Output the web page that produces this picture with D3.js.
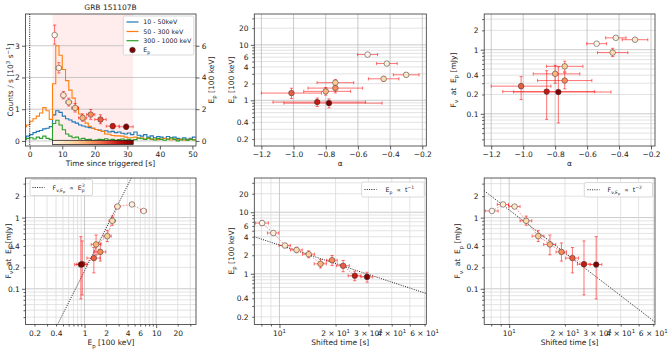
<!DOCTYPE html>
<html><head><meta charset="utf-8">
<script src="https://cdn.jsdelivr.net/npm/d3@7"></script>
<style>
body{margin:0;background:#fff;}
svg text{font-family:"DejaVu Sans",sans-serif;white-space:pre;}
</style></head><body>
<svg id="c" width="669" height="352"></svg>
<script>
// ---------------- data ----------------
const binStart = [-2,-1,0,1,2,3,4,5,6,7,8,9,10,11,12,13,14,15,16,17,18,19,20,21,22,23,24,25,26,27,28,29,30,31,32,33,34,35,36,37,38,39,40,41,42,43,44,45,46,47,48,49,50];
const binEnd = 51;
const rate10_50 = [0.12,0.15,0.2,0.26,0.3,0.33,0.38,0.4,0.45,0.82,0.95,0.9,0.78,0.7,0.66,0.6,0.56,0.5,0.47,0.44,0.42,0.4,0.36,0.34,0.3,0.32,0.28,0.3,0.26,0.28,0.24,0.22,0.25,0.2,0.28,0.18,0.15,0.2,0.12,0.16,0.1,0.14,0.12,0.08,0.14,0.1,0.12,0.08,0.06,0.1,0.05,0.08,0.12];
const rate50_300 = [0.45,0.5,0.62,0.7,0.78,0.88,1.05,0.95,0.68,1.8,3.0,2.7,2.25,1.9,1.6,1.35,1.05,0.85,0.68,0.56,0.46,0.4,0.36,0.33,0.3,0.22,0.21,0.17,0.16,0.16,0.15,0.12,0.1,0.1,0.12,0.08,0.1,0.06,0.08,0.05,0.07,0.04,0.06,0.08,0.05,0.03,0.06,0.04,0.05,0.03,0.02,0.06,0.04];
const rate300_1000 = [0.05,0.08,0.1,0.06,0.12,0.08,0.15,0.08,0.05,0.55,0.65,0.5,0.35,0.22,0.15,0.1,0.12,0.06,0.08,0.04,0.05,0.01,0.03,0.05,0.04,0.07,0.03,0.05,0.02,0.04,0.06,0.03,0.05,0.02,0.04,0.09,0.07,0.05,0.1,0.06,0.03,0.08,0.05,0.02,0.06,0.09,0.05,0.0,0.03,0.06,0.02,0.05,0.03];
const lcNames = ["10 - 50keV","50 - 300 keV","300 - 1000 keV"];
const lcColors = ["#1f77b4","#ff7f0e","#2ca02c"];

const tStart = [7.0,8.3,9.6,11.1,12.9,15.0,17.5,20.0,23.5,27.5];
const tEnd   = [8.3,9.6,11.1,12.9,15.0,17.5,20.0,23.5,27.5,31.8];
const tShift     = [8.07,9.27,10.7,12.35,14.35,16.6,19.15,21.95,25.35,29.5];
const tShiftLow  = [7.42,8.62,9.95,11.45,13.3,15.35,17.9,20.2,23.35,27.35];
const tShiftHigh = [8.72,9.92,11.45,13.25,15.4,17.85,20.4,23.7,27.35,31.65];
const ep     = [6.67,4.6,2.88,2.44,2.08,1.45,1.66,1.35,0.93,0.89];
const epLow  = [6.1,4.28,2.65,2.2,1.82,1.24,1.36,1.08,0.77,0.73];
const epHigh = [7.3,4.93,3.12,2.7,2.36,1.7,1.98,1.65,1.1,1.06];
const alpha     = [-0.54,-0.42,-0.30,-0.44,-0.74,-0.80,-0.74,-1.013,-0.853,-0.78];
const alphaLow  = [-0.602,-0.484,-0.38,-0.535,-0.854,-0.937,-0.91,-1.2,-1.128,-1.06];
const alphaHigh = [-0.478,-0.356,-0.22,-0.345,-0.626,-0.645,-0.57,-0.826,-0.553,-0.45];
const fnu     = [1.24,1.53,1.43,0.9,0.55,0.42,0.33,0.27,0.222,0.219];
const fnuLow  = [1.18,1.44,1.34,0.78,0.46,0.30,0.245,0.167,0.082,0.072];
const fnuHigh = [1.30,1.62,1.52,1.05,0.66,0.57,0.44,0.38,0.47,0.54];
const normEp2 = 0.178;   // F ∝ Ep^2
const normT1 = 29.3;     // Ep ∝ t^-1
const normT2 = 128;      // F ∝ t^-2

const trigTicks = [0,10,20,30,40,50];
const countTicks = [0,1,2,3];
const epLinTicks = [0,2,4,6];
const alphaTicks = [-1.2,-1.0,-0.8,-0.6,-0.4,-0.2];
const epTickLabels = [0.2,0.4,1,2,4,6,10,20];
const fnuTickLabels = [0.1,0.2,0.4,1,2];
const timeTickLabels = [10,20,30,40,60];

// ---------------- layout ----------------
const svg = d3.select('#c');
const FS = 7.5, LFS = 6.3;
const C1=[25.5,196], C2=[254.3,426.3], C3=[484.2,655];
const R1=[14,146], R2=[178,324.5];
const epDom=[0.15,36], fnuDom=[0.0315,3.6], alphaDom=[-1.244,-0.175], tsDom=[7.33,61.3];

const tMid = tStart.map((s,i)=>(s+tEnd[i])/2);
const col = d3.scaleSequential(d3.interpolateOrRd).domain([tMid[0], tMid[tMid.length-1]]);
const idx = d3.range(ep.length);

const defs = svg.append('defs');
let clipN=0;
function clipFor(X,Y){const id='cp'+(clipN++);defs.append('clipPath').attr('id',id).append('rect').attr('x',X[0]).attr('y',Y[0]).attr('width',X[1]-X[0]).attr('height',Y[1]-Y[0]);return `url(#${id})`;}

function rich(parent,x,y,parts,fs,anchor){
  const t=parent.append('text').attr('x',x).attr('y',y).attr('font-size',fs).attr('text-anchor',anchor||'start').attr('fill','#222');
  let cur=0;
  parts.forEach(p=>{
    const a = typeof p==='string'?[p,0,1,0]:[p[0],p[1]||0,p[2]||1,p[3]||0];
    const ts=t.append('tspan').text(a[0]).attr('dy',((a[1]-cur)*fs).toFixed(2)).attr('font-size',(fs*a[2]).toFixed(2));
    if(a[3]) ts.attr('dx',(a[3]*fs).toFixed(2));
    cur=a[1];
  });
  return t;
}
function vlabel(x,yc,parts){const g=svg.append('g').attr('transform',`translate(${x},${yc}) rotate(-90)`);rich(g,0,0,parts,FS,'middle');}

function logVals(d){const o=[];const e0=Math.floor(Math.log10(d[0])),e1=Math.ceil(Math.log10(d[1]));
  for(let e=e0;e<=e1;e++)for(let k=1;k<=9;k++){const v=+(k*Math.pow(10,e)).toPrecision(6);if(v>=d[0]&&v<=d[1])o.push(v);}return o;}
const isDecade=v=>Math.abs(Math.log10(v)-Math.round(Math.log10(v)))<1e-9;

function styleAxis(a){a.select('.domain').remove();a.attr('font-family',null).attr('font-size',null);
  a.selectAll('line').attr('stroke','#333').attr('stroke-width',0.8);
  a.selectAll('text').attr('font-size',FS).attr('fill','#222');}

function axis(gen,scale,pos,vals,size,fmt,horiz){
  const ax=gen(scale).tickValues(vals).tickSize(size).tickSizeOuter(0).tickPadding(size>2.5?2.2:3.7).tickFormat(fmt||(()=>''));
  const a=svg.append('g').attr('transform',horiz?`translate(0,${pos})`:`translate(${pos},0)`).call(ax);
  styleAxis(a);return a;
}
function logAxis(gen,scale,pos,dom,labels,horiz,fmt){
  const vals=logVals(dom);
  const f=fmt||(d=>labels.includes(d)?String(d):'');
  axis(gen,scale,pos,vals.filter(isDecade),3.5,f,horiz);
  axis(gen,scale,pos,vals.filter(v=>!isDecade(v)),2,f,horiz);
}
function hgrid(g,ys,vals,X,major){vals.forEach(v=>g.append('line').attr('x1',X[0]).attr('x2',X[1]).attr('y1',ys(v)).attr('y2',ys(v)).attr('stroke',major(v)?'#bdbdbd':'#dcdcdc').attr('stroke-width',0.8));}
function vgrid(g,xs,vals,Y,major){vals.forEach(v=>g.append('line').attr('y1',Y[0]).attr('y2',Y[1]).attr('x1',xs(v)).attr('x2',xs(v)).attr('stroke',major(v)?'#bdbdbd':'#dcdcdc').attr('stroke-width',0.8));}
function frame(X,Y){svg.append('rect').attr('x',X[0]).attr('y',Y[0]).attr('width',X[1]-X[0]).attr('height',Y[1]-Y[0]).attr('fill','none').attr('stroke','#333').attr('stroke-width',0.8);}

function errorbars(g,xs,ys,xv,yv,xl,xh,yl,yh){
  const eg=g.append('g').attr('stroke','#ff0000').attr('stroke-opacity',0.55).attr('stroke-width',1);
  const cap=1.6;
  idx.forEach(i=>{
    const x=xs(xv[i]),y=ys(yv[i]);
    if(xl){const a=xs(xl[i]),b=xs(xh[i]);eg.append('line').attr('x1',a).attr('x2',b).attr('y1',y).attr('y2',y);
      [a,b].forEach(c=>eg.append('line').attr('x1',c).attr('x2',c).attr('y1',y-cap).attr('y2',y+cap));}
    if(yl){const a=ys(yl[i]),b=ys(yh[i]);eg.append('line').attr('x1',x).attr('x2',x).attr('y1',a).attr('y2',b);
      [a,b].forEach(c=>eg.append('line').attr('y1',c).attr('y2',c).attr('x1',x-cap).attr('x2',x+cap));}
  });
}
function points(g,xs,ys,xv,yv){
  g.append('g').selectAll('circle').data(idx).join('circle')
    .attr('cx',i=>xs(xv[i])).attr('cy',i=>ys(yv[i])).attr('r',2.8)
    .attr('fill',i=>col(tMid[i])).attr('stroke','#333').attr('stroke-width',0.5);
}
function connect(g,xs,ys,xv,yv){
  g.append('path').attr('d',d3.line().x(i=>xs(xv[i])).y(i=>ys(yv[i]))(idx))
    .attr('fill','none').attr('stroke','#ff0000').attr('stroke-opacity',0.55).attr('stroke-width',0.9).attr('stroke-dasharray','1.5,1.5');
}
function powerLine(g,xs,ys,xdom,fn){
  const xv=d3.range(0,41).map(k=>xdom[0]*Math.pow(xdom[1]/xdom[0],k/40));
  g.append('path').attr('d',d3.line().x(d=>xs(d)).y(d=>ys(fn(d)))(xv))
    .attr('fill','none').attr('stroke','#222').attr('stroke-width',1).attr('stroke-dasharray','1,1.3');
}
function legendBox(x0,x1,y0,y1,parts,lx0,lx1,tx){
  const g=svg.append('g');
  g.append('rect').attr('x',x0).attr('y',y0).attr('width',x1-x0).attr('height',y1-y0).attr('rx',1.5)
    .attr('fill','#fff').attr('fill-opacity',0.85).attr('stroke','#d0d0d0').attr('stroke-width',0.8);
  const yc=(y0+y1)/2;
  g.append('line').attr('x1',lx0).attr('x2',lx1).attr('y1',yc).attr('y2',yc).attr('stroke','#222').attr('stroke-width',1).attr('stroke-dasharray','1,1.3');
  rich(g,tx,yc+2.2,parts,LFS,'start');
}
const epLabel=['E',['p',0.3,0.72],[' [100 keV]',0,1]];
const fnuLabel=['F',['ν',0.3,0.72],['  at  E',0,1],['p',0.3,0.72],[' [mJy]',0,1]];

// ================= Panel 1 : light curve =================
{
  const xT=d3.scaleLinear().domain([-1.3,51.1]).range(C1);
  const yL=d3.scaleLinear().domain([-0.16,4.0]).range([R1[1],R1[0]]);
  const yR=d3.scaleLinear().domain([-0.32,8.0]).range([R1[1],R1[0]]);
  const g=svg.append('g').attr('clip-path',clipFor(C1,R1));
  g.append('rect').attr('x',xT(tStart[0])).attr('width',xT(tEnd[tEnd.length-1])-xT(tStart[0]))
    .attr('y',R1[0]).attr('height',R1[1]-R1[0]).attr('fill','#ff0000').attr('fill-opacity',0.075);
  hgrid(g,yL,countTicks,C1,()=>true);
  [rate10_50,rate50_300,rate300_1000].forEach((arr,k)=>{
    const pts=binStart.map((t,i)=>[t,arr[i]]).concat([[binEnd,arr[arr.length-1]]]);
    g.append('path').attr('d',d3.line().x(d=>xT(d[0])).y(d=>yL(d[1])).curve(d3.curveStepAfter)(pts))
      .attr('fill','none').attr('stroke',lcColors[k]).attr('stroke-width',1.1);
  });
  g.append('line').attr('x1',xT(0)).attr('x2',xT(0)).attr('y1',R1[0]).attr('y2',R1[1]).attr('stroke','#111').attr('stroke-width',1).attr('stroke-dasharray','1,1.2');
  // colour bar inset
  const gid='gradT';
  const lg=defs.append('linearGradient').attr('id',gid);
  d3.range(0,11).forEach(k=>lg.append('stop').attr('offset',k/10).attr('stop-color',d3.interpolateOrRd(k/10)));
  g.append('rect').attr('x',xT(tStart[0])).attr('width',xT(tEnd[tEnd.length-1])-xT(tStart[0]))
    .attr('y',yL(0.02)).attr('height',yL(-0.11)-yL(0.02)).attr('fill',`url(#${gid})`).attr('stroke','#111').attr('stroke-width',0.7);
  errorbars(g,xT,yR,tMid,ep,tStart,tEnd,epLow,epHigh);
  points(g,xT,yR,tMid,ep);
  frame(C1,R1);
  axis(d3.axisBottom,xT,R1[1],trigTicks,3.5,d3.format('d'),true);
  axis(d3.axisLeft,yL,C1[0],countTicks,3.5,d3.format('d'),false);
  axis(d3.axisRight,yR,C1[1],epLinTicks,3.5,d3.format('d'),false);
  // legend
  const lgG=svg.append('g');
  lgG.append('rect').attr('x',123.3).attr('y',16).attr('width',70.5).attr('height',39).attr('rx',1.5)
    .attr('fill','#fff').attr('fill-opacity',0.85).attr('stroke','#d0d0d0').attr('stroke-width',0.8);
  const ly=[22,31.5,40.7];
  lcNames.forEach((n,k)=>{
    lgG.append('line').attr('x1',126.5).attr('x2',138.5).attr('y1',ly[k]).attr('y2',ly[k]).attr('stroke',lcColors[k]).attr('stroke-width',1.2);
    rich(lgG,143.3,ly[k]+2.2,[n],LFS,'start');
  });
  lgG.append('circle').attr('cx',132.5).attr('cy',50).attr('r',2.8).attr('fill',col(tMid[tMid.length-1])).attr('stroke','#333').attr('stroke-width',0.5);
  rich(lgG,143.3,52,['E',['p',0.3,0.72]],LFS,'start');
  rich(svg,110.5,9.6,['GRB 151107B'],FS,'middle');
  rich(svg,110.5,165.8,['Time since triggered [s]'],FS,'middle');
  vlabel(13.3,80,['Counts / s [10',['3',-0.4,0.72],[' s',0,1],['−1',-0.4,0.72],[']',0,1]]);
  vlabel(213.6,80,epLabel);
}

// ================= Panel 2 : Ep vs alpha =================
{
  const xs=d3.scaleLinear().domain(alphaDom).range(C2);
  const ys=d3.scaleLog().domain(epDom).range([R1[1],R1[0]]);
  const g=svg.append('g').attr('clip-path',clipFor(C2,R1));
  hgrid(g,ys,logVals(epDom),C2,isDecade);
  vgrid(g,xs,alphaTicks,R1,()=>true);
  errorbars(g,xs,ys,alpha,ep,alphaLow,alphaHigh,epLow,epHigh);
  points(g,xs,ys,alpha,ep);
  frame(C2,R1);
  axis(d3.axisBottom,xs,R1[1],alphaTicks,3.5,d3.format('.1f'),true);
  logAxis(d3.axisLeft,ys,C2[0],epDom,epTickLabels,false);
  rich(svg,340.3,166.3,['α'],FS,'middle');
  vlabel(233.6,80,epLabel);
}

// ================= Panel 3 : Fnu vs alpha =================
{
  const xs=d3.scaleLinear().domain(alphaDom).range(C3);
  const ys=d3.scaleLog().domain(fnuDom).range([R1[1],R1[0]]);
  const g=svg.append('g').attr('clip-path',clipFor(C3,R1));
  hgrid(g,ys,logVals(fnuDom),C3,isDecade);
  vgrid(g,xs,alphaTicks,R1,()=>true);
  errorbars(g,xs,ys,alpha,fnu,alphaLow,alphaHigh,fnuLow,fnuHigh);
  points(g,xs,ys,alpha,fnu);
  frame(C3,R1);
  axis(d3.axisBottom,xs,R1[1],alphaTicks,3.5,d3.format('.1f'),true);
  logAxis(d3.axisLeft,ys,C3[0],fnuDom,fnuTickLabels,false);
  rich(svg,569.6,166.3,['α'],FS,'middle');
  vlabel(456,80,fnuLabel);
}

// ================= Panel 4 : Fnu vs Ep =================
{
  const xs=d3.scaleLog().domain(epDom).range(C1);
  const ys=d3.scaleLog().domain(fnuDom).range([R2[1],R2[0]]);
  const g=svg.append('g').attr('clip-path',clipFor(C1,R2));
  hgrid(g,ys,logVals(fnuDom),C1,isDecade);
  vgrid(g,xs,logVals(epDom),R2,isDecade);
  powerLine(g,xs,ys,epDom,e=>normEp2*e*e);
  connect(g,xs,ys,ep,fnu);
  errorbars(g,xs,ys,ep,fnu,epLow,epHigh,fnuLow,fnuHigh);
  points(g,xs,ys,ep,fnu);
  frame(C1,R2);
  logAxis(d3.axisBottom,xs,R2[1],epDom,epTickLabels,true);
  logAxis(d3.axisLeft,ys,C1[0],fnuDom,fnuTickLabels,false);
  legendBox(30,92.5,179.5,195.5,['F',['ν,E',0.3,0.72],['p',0.5,0.55],['  ∝  E',0,1],['p',0.3,0.72],['2',-0.45,0.72,-0.42]],32.5,44.5,52.5);
  rich(svg,111,345.3,epLabel,FS,'middle');
  vlabel(10.9,251,fnuLabel);
}

// ================= Panel 5 : Ep vs shifted time =================
function timeAxis(xs,X){
  logAxis(d3.axisBottom,xs,R2[1],tsDom,[],true,()=> '');
  timeTickLabels.forEach(v=>{
    const e=Math.floor(Math.log10(v)), m=Math.round(v/Math.pow(10,e));
    const head=(m===1?'':m+' × ')+'10';
    rich(svg,xs(v),R2[1]+11.2,[head,[String(e),-0.4,0.72]],FS,'middle');
  });
}
{
  const xs=d3.scaleLog().domain(tsDom).range(C2);
  const ys=d3.scaleLog().domain(epDom).range([R2[1],R2[0]]);
  const g=svg.append('g').attr('clip-path',clipFor(C2,R2));
  hgrid(g,ys,logVals(epDom),C2,isDecade);
  vgrid(g,xs,logVals(tsDom),R2,isDecade);
  powerLine(g,xs,ys,tsDom,t=>normT1/t);
  connect(g,xs,ys,tShift,ep);
  errorbars(g,xs,ys,tShift,ep,tShiftLow,tShiftHigh,epLow,epHigh);
  points(g,xs,ys,tShift,ep);
  frame(C2,R2);
  timeAxis(xs,C2);
  logAxis(d3.axisLeft,ys,C2[0],epDom,epTickLabels,false);
  legendBox(361.7,424.3,182,197,['E',['p',0.3,0.72],['  ∝  t',0,1],['−1',-0.45,0.72]],364.5,376.5,385.5);
  rich(svg,340.3,344.5,['Shifted time [s]'],FS,'middle');
  vlabel(233.6,251,epLabel);
}

// ================= Panel 6 : Fnu vs shifted time =================
{
  const xs=d3.scaleLog().domain(tsDom).range(C3);
  const ys=d3.scaleLog().domain(fnuDom).range([R2[1],R2[0]]);
  const g=svg.append('g').attr('clip-path',clipFor(C3,R2));
  hgrid(g,ys,logVals(fnuDom),C3,isDecade);
  vgrid(g,xs,logVals(tsDom),R2,isDecade);
  powerLine(g,xs,ys,tsDom,t=>normT2/(t*t));
  connect(g,xs,ys,tShift,fnu);
  errorbars(g,xs,ys,tShift,fnu,tShiftLow,tShiftHigh,fnuLow,fnuHigh);
  points(g,xs,ys,tShift,fnu);
  frame(C3,R2);
  timeAxis(xs,C3);
  logAxis(d3.axisLeft,ys,C3[0],fnuDom,fnuTickLabels,false);
  legendBox(584.3,652.5,182.5,197,['F',['ν,E',0.3,0.72],['p',0.5,0.55],['  ∝  t',0,1],['−2',-0.45,0.72]],587.5,599.5,607.5);
  rich(svg,569.6,345.3,['Shifted time [s]'],FS,'middle');
  vlabel(460.3,251,fnuLabel);
}
</script></body></html>
